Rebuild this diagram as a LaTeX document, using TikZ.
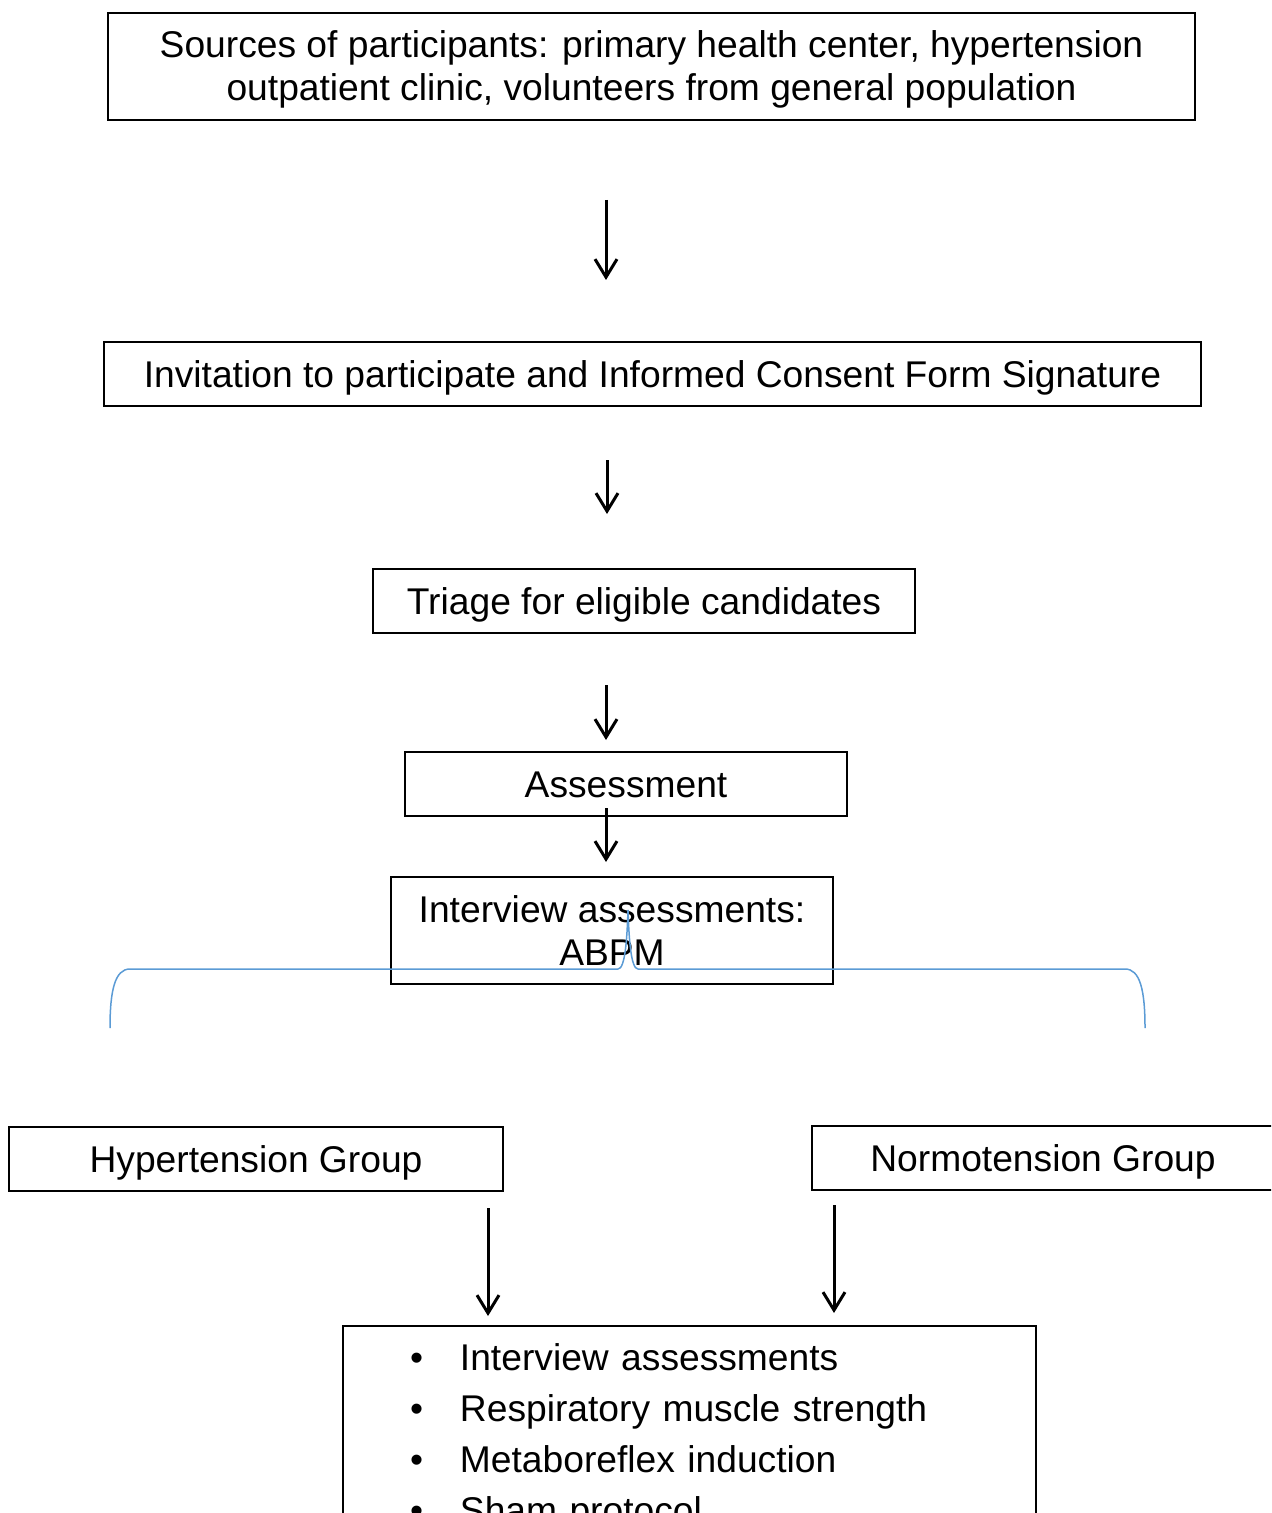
\documentclass[tikz,border=0pt]{standalone}
\usepackage{fontspec}
\setmainfont{Liberation Sans}
\usetikzlibrary{arrows.meta}

\definecolor{bracecol}{HTML}{5B9BD5}

\tikzset{
  stagebox/.style={draw, line width=1pt, inner sep=0pt, align=center,
    font=\fontsize{18.6pt}{21.5pt}\selectfont},
  oneline/.style={text height=13.4pt, text depth=0pt},
  flowarrow/.style={line width=1.5pt, -{Straight Barb[length=9pt,width=11pt,line width=1.5pt]}},
  bracket/.style={draw=bracecol, line width=0.75pt}
}
\newcommand{\itembul}{\makebox[25pt][l]{\textbullet}}

\begin{document}
\begin{tikzpicture}[x=0.5pt,y=-0.5pt]
  \useasboundingbox (0,0) rectangle (1271,1513);
  \clip (0,0) rectangle (1271,1513);

  % boxes
  \node [stagebox, minimum width=543.5pt, minimum height=53.5pt] (sources) at (651.5,66.5)
    {\rule{0pt}{16.6pt}Sources of participants: primary health center, hypertension\\outpatient clinic, volunteers from general population};
  \node [stagebox, oneline, minimum width=548.5pt, minimum height=32pt] (invite) at (652.5,374)
    {Invitation to participate and Informed Consent Form Signature};
  \node [stagebox, oneline, minimum width=271pt, minimum height=32pt] (triage) at (644,601)
    {Triage for eligible candidates};
  \node [stagebox, oneline, minimum width=221pt, minimum height=32pt] (assess) at (626,784)
    {Assessment};
  \node [stagebox, minimum width=221pt, minimum height=53.5pt] (interview) at (612,930.5)
    {Interview assessments:\\ABPM};
  \node [stagebox, oneline, minimum width=247pt, minimum height=32pt] (hyper) at (256,1159)
    {Hypertension Group};
  \node [stagebox, oneline, minimum width=231pt, minimum height=32pt] (normo) at (1043,1158)
    {Normotension Group};
  \node [stagebox, anchor=north west, align=left, text width=279.5pt,
    minimum width=346.5pt, minimum height=140pt, inner xsep=33.5pt, inner ysep=9pt,
    font=\fontsize{18.6pt}{25.5pt}\selectfont] (protocol) at (342,1325)
    {\itembul Interview assessments\\
     \itembul Respiratory muscle strength\\
     \itembul Metaboreflex induction\\
     \itembul Sham protocol\\ \mbox{}\\ \mbox{}};

  % arrows
  \coordinate (a1s) at (606,200);  \coordinate (a1e) at (606,280);
  \coordinate (a2s) at (607,460);  \coordinate (a2e) at (607,514);
  \coordinate (a3s) at (606,685);  \coordinate (a3e) at (606,740);
  \coordinate (a4s) at (606,808);  \coordinate (a4e) at (606,862);
  \coordinate (a5s) at (488,1208); \coordinate (a5e) at (488,1316);
  \coordinate (a6s) at (834,1205); \coordinate (a6e) at (834,1313);
  \foreach \a in {a1,a2,a3,a4,a5,a6}
    \draw [flowarrow] (\a s) -- (\a e);

  % brace
  \draw [bracket] (110,1028) .. controls (110,990) and (115,969) .. (130,969)
    -- (618,969) .. controls (625,969) and (627,940) .. (628,910)
    .. controls (629,940) and (631,969) .. (638,969)
    -- (1125,969) .. controls (1140,969) and (1145,990) .. (1145,1028);
\end{tikzpicture}
\end{document}
